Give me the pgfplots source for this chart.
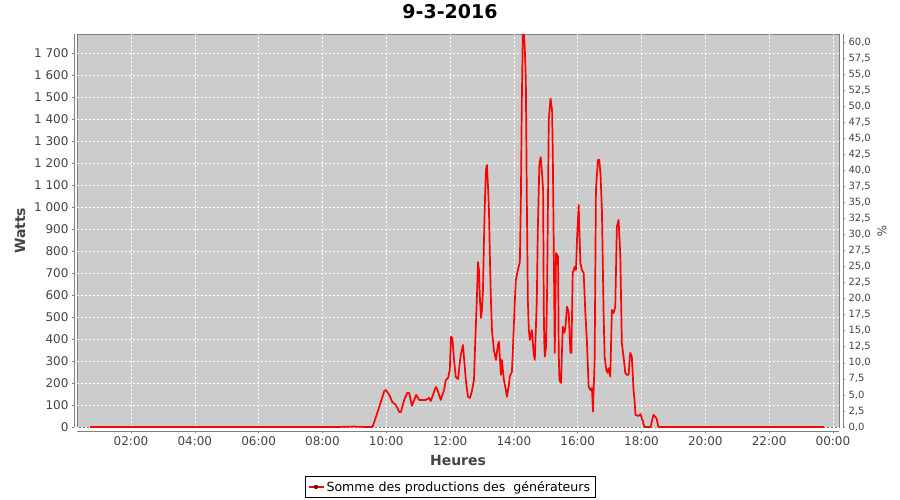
\documentclass[border=0pt]{standalone}
\usepackage{pgfplots}
\pgfplotsset{compat=1.18}
\usepackage{fontspec}
\setmainfont{DejaVu Sans}
\definecolor{plotbg}{RGB}{204,204,204}
\definecolor{framec}{RGB}{128,128,128}
\definecolor{labc}{RGB}{68,68,68}
\pgfplotstableread{
h w
0.72 0
8.5 0
9.0 2
9.3 0
9.572 0
9.781 91
9.938 164
9.991 168
10.094 146
10.188 114
10.303 100
10.406 68
10.459 68
10.5625 123
10.656 155
10.719 155
10.803 96
10.875 123
10.938 146
11.031 123
11.241 123
11.344 132
11.397 118
11.553 182
11.594 173
11.709 123
11.8125 168
11.866 214
11.9375 223
11.991 259
12.031 410
12.072 405
12.125 305
12.178 228
12.25 218
12.334 328
12.406 373
12.447 296
12.5 205
12.5625 137
12.625 132
12.678 159
12.75 214
12.772 318
12.803 441
12.844 600
12.875 750
12.906 714
12.938 578
12.969 496
13.0 532
13.031 623
13.0625 850
13.094 1033
13.125 1170
13.156 1192
13.1875 1100
13.219 987
13.25 760
13.281 578
13.3125 441
13.375 350
13.4375 305
13.5 373
13.531 387
13.594 237
13.625 305
13.656 259
13.6875 214
13.75 168
13.781 137
13.844 191
13.875 232
13.9375 250
13.969 350
14.0 464
14.031 578
14.0625 669
14.125 714
14.1875 750
14.219 1033
14.25 1488
14.281 1800
14.3125 1800
14.344 1715
14.375 1579
14.406 1033
14.4375 578
14.469 441
14.5 396
14.5625 441
14.625 328
14.656 305
14.6875 441
14.719 578
14.75 896
14.80 1200
14.84 1227
14.88 1160
14.916 1078
14.9375 532
14.953 382
14.969 320
15.009 365
15.041 623
15.094 1397
15.147 1495
15.197 1442
15.219 1253
15.25 820
15.281 337
15.322 791
15.384 775
15.406 337
15.428 214
15.478 200
15.531 456
15.584 428
15.616 456
15.666 547
15.719 518
15.772 337
15.803 337
15.844 700
15.906 729
15.947 714
15.978 851
16.031 1010
16.084 746
16.134 714
16.1875 700
16.241 518
16.291 382
16.344 183
16.397 168
16.447 177
16.478 70
16.531 300
16.572 1078
16.634 1215
16.678 1215
16.719 1139
16.759 987
16.8125 518
16.844 320
16.897 259
16.9375 246
16.969 268
17.022 229
17.072 532
17.125 518
17.178 547
17.228 911
17.281 942
17.334 791
17.384 382
17.4375 320
17.491 246
17.541 237
17.594 237
17.647 337
17.697 320
17.75 168
17.781 123
17.8125 55
17.906 50
17.969 59
18.031 30
18.094 0
18.281 0
18.375 55
18.469 40
18.531 0
23.72 0
}\prod

\begin{document}
\begin{tikzpicture}[x=1pt,y=1pt]
\useasboundingbox (0,0) rectangle (900,500);
\begin{axis}[
  at={(77.3pt,72.7pt)}, anchor=south west,
  scale only axis, width=761.7pt, height=393pt,
  xmin=0.317, xmax=24.19, ymin=-1.5, ymax=1786.5,
  axis x line*=bottom, axis y line*=left,
  axis x line shift=3.7pt, axis y line shift=3.3pt,
  axis line style={-, draw=framec, line width=0.8pt},
  axis background/.style={fill=plotbg, draw=framec, line width=0.8pt},
  xtick={2,4,...,24},
  xticklabels={02:00,04:00,06:00,08:00,10:00,12:00,14:00,16:00,18:00,20:00,22:00,00:00},
  ytick={0,100,...,1700},
  tick align=outside, major tick length=2pt,
  tick style={draw=framec, line width=0.6pt},
  xmajorgrids, ymajorgrids,
  grid style={white, line width=0.5pt, dash pattern=on 2pt off 2pt},
  /pgf/number format/assume math mode=true,
  /pgf/number format/1000 sep={\ },
  ticklabel style={font=\fontsize{12}{14}\selectfont, text=labc},
  legend style={at={(0.4893,-0.1519)}, anchor=center, draw=black, line width=0.6pt,
    fill=white, font=\fontsize{12.6}{15}\selectfont, inner xsep=3pt, inner ysep=2.5pt,
    /tikz/every even column/.append style={column sep=2pt}},
  legend cell align=left,
  legend image code/.code={
    \draw[red, line width=1.7pt] (0pt,0pt) -- (15pt,0pt);
    \fill[black!60!red] (6.5pt,-1pt) rectangle (8.5pt,1pt);
  },
]
\addplot[red, line width=1.7pt, line join=round] table[x=h, y=w] {\prod};
\addlegendentry{Somme des productions des\ \ générateurs}
\end{axis}
\begin{axis}[
  at={(77.3pt,72.7pt)}, anchor=south west,
  scale only axis, width=761.7pt, height=393pt,
  xmin=0.317, xmax=24.19, ymin=-0.05, ymax=61.2,
  axis x line=none, axis y line*=right,
  axis y line shift=4pt,
  axis line style={-, draw=framec, line width=0.8pt},
  ytick distance=2.5,
  tick align=outside, major tick length=2pt,
  tick style={draw=framec, line width=0.6pt},
  /pgf/number format/assume math mode=true,
  /pgf/number format/.cd, fixed, fixed zerofill, precision=1, use comma, /pgfplots/.cd,
  ticklabel style={font=\fontsize{10}{12}\selectfont, text=labc},
]
\addplot[draw=none] coordinates {(1,0)};
\end{axis}
\node[font=\bfseries\fontsize{19}{22}\selectfont] at (450,488) {9-3-2016};
\node[rotate=90, font=\bfseries\fontsize{14}{16}\selectfont, text=labc] at (20,269.2) {Watts};
\node[font=\bfseries\fontsize{14}{16}\selectfont, text=labc] at (458,40) {Heures};
\node[rotate=-90, font=\fontsize{12}{14}\selectfont, text=labc] at (882,269.2) {\%};
\end{tikzpicture}
\end{document}
